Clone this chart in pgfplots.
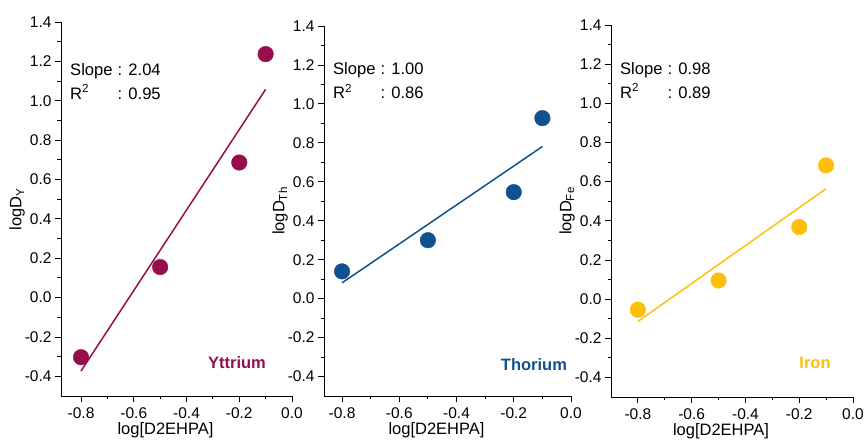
\documentclass[border=0pt]{standalone}
\usepackage{fontspec}
\setmainfont{Liberation Sans}
\usepackage{pgfplots}
\pgfplotsset{compat=1.18}
\definecolor{ycol}{HTML}{970E4C}
\definecolor{thcol}{HTML}{10528F}
\definecolor{fecol}{HTML}{FFBE0A}
\pgfplotsset{
  myax/.style={
    scale only axis,
    axis x line*=bottom, axis y line*=left,
    xmax=0, ymin=-0.5, ymax=1.4,
    xtick={-0.8,-0.6,-0.4,-0.2,0},
    ytick={-0.4,-0.2,0,0.2,0.4,0.6,0.8,1.0,1.2,1.4},
    minor x tick num=1, minor y tick num=1,
    tick align=outside,
    major tick length=6pt, minor tick length=3.5pt,
    every tick/.style={black, line width=0.8pt},
    axis line style={black, line width=0.8pt},
    ticklabel style={font=\fontsize{15.5}{18}\selectfont},
    xticklabel style={inner sep=0pt, yshift=-5pt},
    label style={font=\fontsize{16.5}{19}\selectfont},
    xlabel={log[D2EHPA]},
    xlabel style={at={(axis description cs:0.5,0)}, anchor=north, inner sep=0pt, yshift=-26.5pt, xshift=-11pt},
    ylabel style={yshift=-7pt},
    /pgf/number format/.cd, fixed, fixed zerofill, precision=1, assume math mode=true,
  },
  /pgfplots/clip=false,
}
\newcommand{\annot}[2]{\begin{tabular}[t]{@{}l@{\hspace{5pt}}l@{}}Slope & : #1\\[4pt] R\textsuperscript{2} & : #2\end{tabular}}
\begin{document}
\begin{tikzpicture}[x=1pt,y=1pt]
\path[use as bounding box] (0,0) rectangle (865,441);
% Yttrium
\begin{axis}[myax, at={(61pt,45pt)}, anchor=south west, width=231pt, height=374pt,
  xmin=-0.876, ylabel={logD\textsubscript{Y}}]
\addplot[ycol, line width=1.5pt] coordinates {(-0.8,-0.373) (-0.1,1.058)};
\addplot[only marks, mark=*, mark size=7.8pt, ycol, mark options={draw=ycol, fill=ycol}] coordinates {(-0.8,-0.303) (-0.5,0.155) (-0.2,0.686) (-0.1,1.237)};
\node[anchor=base west, inner sep=0pt, font=\fontsize{16.6}{19}\selectfont] at (rel axis cs:0.039,0.858) {\annot{2.04}{0.95}};
\node[font=\fontsize{16.5}{19}\selectfont\bfseries, text=ycol] at (rel axis cs:0.762,0.088) {Yttrium};
\end{axis}
% Thorium
\begin{axis}[myax, at={(324pt,45pt)}, anchor=south west, width=247pt, height=370pt,
  xmin=-0.863, ylabel={logD\textsubscript{Th}}]
\addplot[thcol, line width=1.5pt] coordinates {(-0.8,0.081) (-0.1,0.781)};
\addplot[only marks, mark=*, mark size=7.8pt, thcol, mark options={draw=thcol, fill=thcol}] coordinates {(-0.8,0.14) (-0.5,0.30) (-0.2,0.547) (-0.1,0.927)};
\node[anchor=base west, inner sep=0pt, font=\fontsize{16.6}{19}\selectfont] at (rel axis cs:0.036,0.868) {\annot{1.00}{0.86}};
\node[font=\fontsize{16.5}{19}\selectfont\bfseries, text=thcol] at (rel axis cs:0.85,0.086) {Thorium};
\end{axis}
% Iron
\begin{axis}[myax, at={(611pt,44pt)}, anchor=south west, width=242pt, height=372pt,
  xmin=-0.9, ylabel={logD\textsubscript{Fe}}]
\addplot[fecol, line width=1.5pt] coordinates {(-0.8,-0.114) (-0.1,0.564)};
\addplot[only marks, mark=*, mark size=7.8pt, fecol, mark options={draw=fecol, fill=fecol}] coordinates {(-0.8,-0.054) (-0.5,0.095) (-0.2,0.368) (-0.1,0.683)};
\node[anchor=base west, inner sep=0pt, font=\fontsize{16.6}{19}\selectfont] at (rel axis cs:0.037,0.868) {\annot{0.98}{0.89}};
\node[font=\fontsize{16.5}{19}\selectfont\bfseries, text=fecol] at (rel axis cs:0.843,0.091) {Iron};
\end{axis}
\end{tikzpicture}
\end{document}
